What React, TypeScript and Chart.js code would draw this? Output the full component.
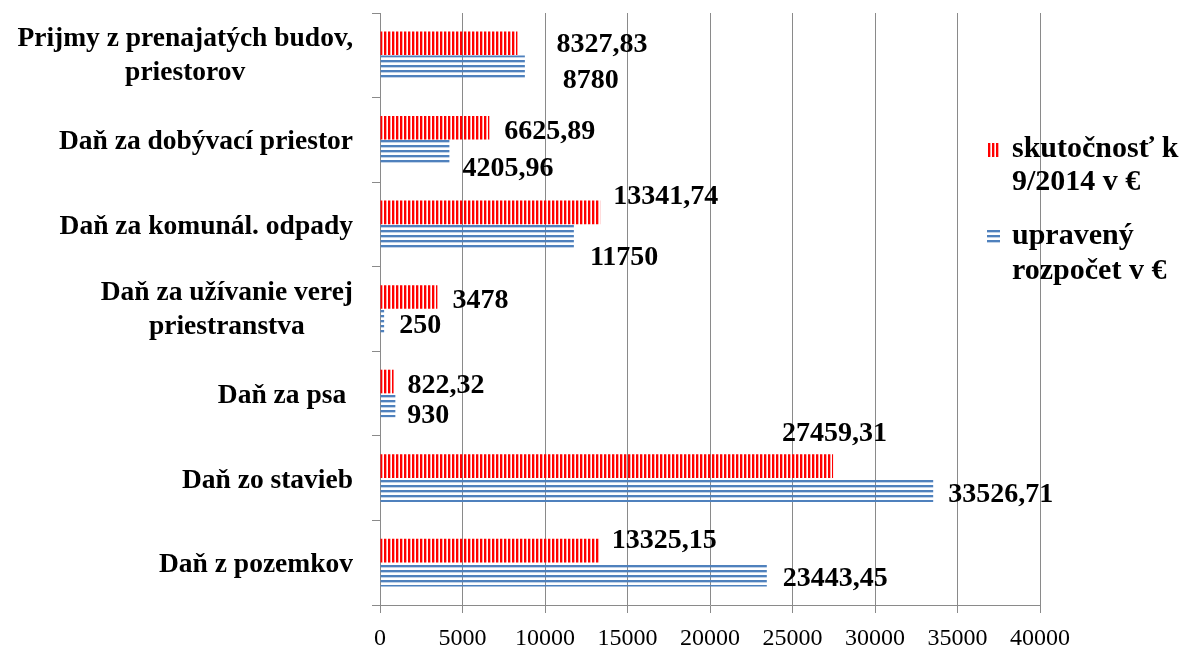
import React, { useEffect, useRef } from "react";
import { Chart, registerables } from "chart.js";

Chart.register(...registerables);

// ---------- data ----------
const categories: string[][] = [
  ["Prijmy z prenajatých budov,", "priestorov"],
  ["Daň za dobývací priestor"],
  ["Daň za komunál. odpady"],
  ["Daň za užívanie verej", "priestranstva"],
  ["Daň za psa "],
  ["Daň zo stavieb"],
  ["Daň z pozemkov"],
];

const seriesNames: string[][] = [
  ["skutočnosť k", "9/2014 v €"],
  ["upravený", "rozpočet v €"],
];

const actualValues = [8327.83, 6625.89, 13341.74, 3478, 822.32, 27459.31, 13325.15];
const budgetValues = [8780, 4205.96, 11750, 250, 930, 33526.71, 23443.45];

const xMin = 0;
const xMax = 40000;
const xStep = 5000;

// data-label offsets (px) from bar end / bar centre, as placed in the original
const actualLabelOffsets = [[39, -1], [15, 1.5], [13, -18], [15, 1.5], [14, 1.5], [-51, -35], [12, -12]];
const budgetLabelOffsets = [[38, 11.5], [13, 15], [16, 19], [15, 2], [12, 8], [15, 2], [16, 2]];

const FONT = "'Liberation Serif', 'Times New Roman', serif";
const RED = "#FF0000";
const BLUE = "#4F81BD";
const GRID = "#8a8a8a";

const fmt = (v: number) => String(v).replace(".", ",");

function makeRedPattern(ctx: CanvasRenderingContext2D) {
  const c = document.createElement("canvas");
  c.width = 4;
  c.height = 4;
  const g = c.getContext("2d")!;
  g.fillStyle = RED;
  g.fillRect(0, 0, 2, 4);
  g.fillStyle = "rgba(255,0,0,0.35)";
  g.fillRect(2, 0, 1, 4);
  return ctx.createPattern(c, "repeat")!;
}

function makeBluePattern(ctx: CanvasRenderingContext2D) {
  const c = document.createElement("canvas");
  c.width = 4;
  c.height = 5;
  const g = c.getContext("2d")!;
  g.fillStyle = BLUE;
  g.fillRect(0, 0, 4, 2);
  g.fillStyle = "rgba(79,129,189,0.35)";
  g.fillRect(0, 2, 4, 1);
  return ctx.createPattern(c, "repeat")!;
}

export default function App() {
  const ref = useRef<HTMLCanvasElement | null>(null);

  useEffect(() => {
    const canvas = ref.current;
    if (!canvas) return;
    const ctx0 = canvas.getContext("2d")!;
    const redPattern = makeRedPattern(ctx0);
    const bluePattern = makeBluePattern(ctx0);

    const customDraw = {
      id: "customDraw",
      afterDraw(chart: any) {
        const ctx: CanvasRenderingContext2D = chart.ctx;
        const yScale = chart.scales.y;
        const area = chart.chartArea;
        ctx.save();
        ctx.fillStyle = "#000";
        ctx.textBaseline = "alphabetic";

        // category labels
        ctx.font = `bold 27.5px ${FONT}`;
        ctx.textAlign = "center";
        categories.forEach((lines, i) => {
          const cy = yScale.getPixelForValue(i);
          const maxW = Math.max(...lines.map((l) => ctx.measureText(l).width));
          const right = yScale.right - 27;
          const cx = right - maxW / 2;
          const base = lines.length > 1 ? 8 : 9.5;
          lines.forEach((l, k) => {
            const by = cy + base + (k - (lines.length - 1) / 2) * 34;
            ctx.fillText(l, cx, by);
          });
        });

        // data labels
        ctx.font = `bold 28px ${FONT}`;
        ctx.textAlign = "left";
        [actualLabelOffsets, budgetLabelOffsets].forEach((offs, d) => {
          const meta = chart.getDatasetMeta(d);
          meta.data.forEach((el: any, i: number) => {
            const val = chart.data.datasets[d].data[i] as number;
            ctx.fillText(fmt(val), el.x + offs[i][0], el.y + offs[i][1] + 9.5);
          });
        });

        // legend
        const lx = area.right - 28;
        const ly = area.top + 144;
        ctx.font = `bold 30px ${FONT}`;
        ctx.fillStyle = redPattern;
        ctx.fillRect(lx - 24, ly - 14, 11, 14);
        ctx.fillStyle = bluePattern;
        ctx.fillRect(lx - 25, ly + 71, 13, 15);
        ctx.fillStyle = "#000";
        seriesNames[0].forEach((t, k) => ctx.fillText(t, lx, ly + k * 33));
        seriesNames[1].forEach((t, k) => ctx.fillText(t, lx, ly + 87 + k * 35));

        ctx.restore();
      },
    };

    const chart = new Chart(canvas, {
      type: "bar",
      data: {
        labels: categories.map((c) => c.join(" ")),
        datasets: [
          {
            label: seriesNames[0].join(" "),
            data: actualValues,
            backgroundColor: redPattern as any,
            borderWidth: 0,
            categoryPercentage: 0.57,
            barPercentage: 0.98,
          },
          {
            label: seriesNames[1].join(" "),
            data: budgetValues,
            backgroundColor: bluePattern as any,
            borderWidth: 0,
            categoryPercentage: 0.57,
            barPercentage: 0.98,
          },
        ],
      },
      options: {
        indexAxis: "y",
        responsive: false,
        animation: false,
        devicePixelRatio: 1,
        layout: { padding: { top: 13, right: 150, left: 0, bottom: 0 } },
        plugins: { legend: { display: false }, tooltip: { enabled: false } },
        scales: {
          x: {
            min: xMin,
            max: xMax,
            ticks: {
              stepSize: xStep,
              color: "#000",
              font: { family: FONT, size: 24 },
              padding: 11,
              maxRotation: 0,
              callback: (v: any) => String(v),
            },
            grid: { color: GRID, tickLength: 8, lineWidth: 1 },
            border: { color: GRID },
            afterFit: (s: any) => {
              s.height = 45;
            },
          },
          y: {
            grid: { drawOnChartArea: false, tickLength: 8, color: GRID, offset: true },
            border: { color: GRID },
            ticks: { display: false },
            afterFit: (s: any) => {
              s.width = 380;
            },
          },
        },
      },
      plugins: [customDraw],
    });

    return () => chart.destroy();
  }, []);

  return (
    <div style={{ position: "absolute", left: 0, top: 0, width: 1190, height: 650, background: "#fff" }}>
      <canvas ref={ref} width={1190} height={650} style={{ display: "block" }} />
    </div>
  );
}
